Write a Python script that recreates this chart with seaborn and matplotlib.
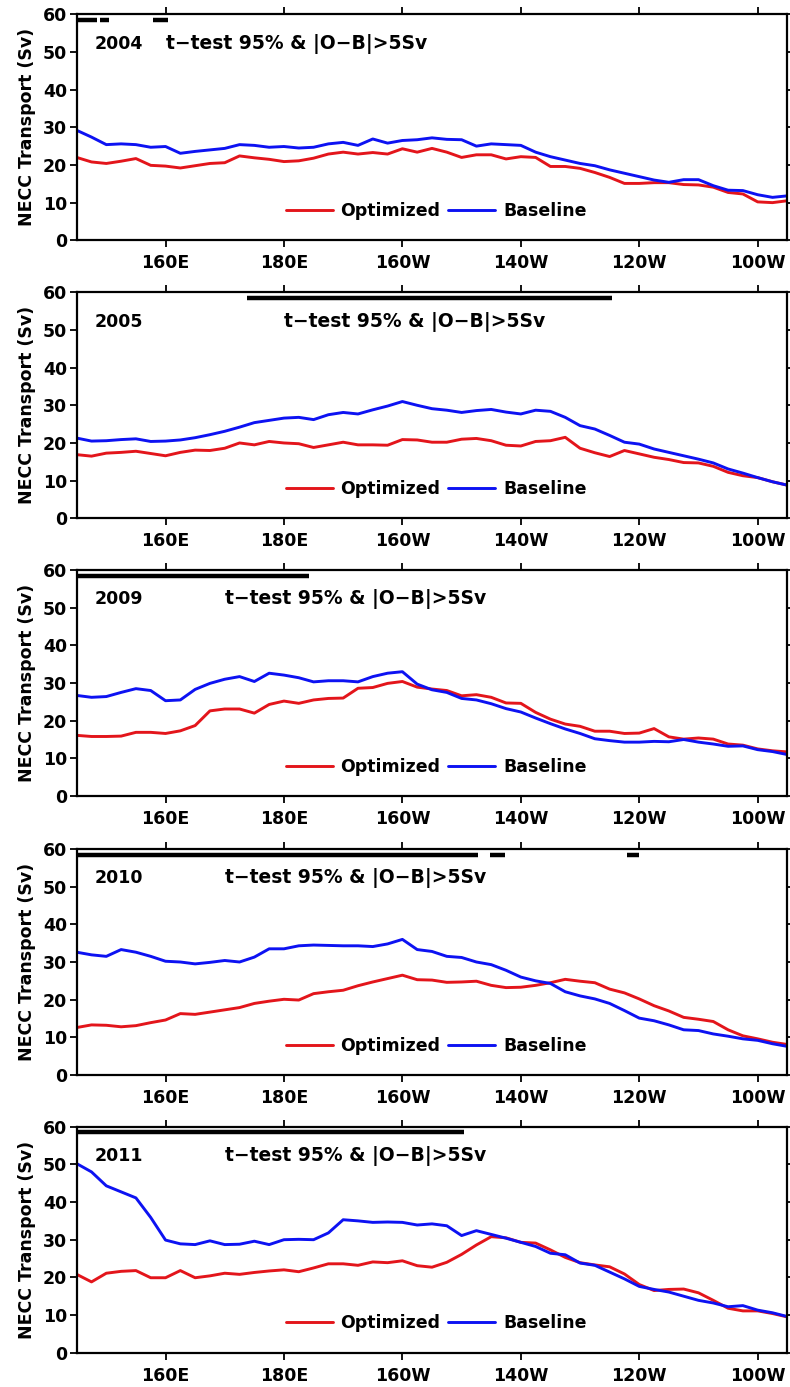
import numpy as np
import pandas as pd
import matplotlib
matplotlib.use("Agg")
import matplotlib.pyplot as plt
import seaborn as sns

# longitude grid (degrees east), 145E .. 95W
lon = np.arange(145, 265.01, 2.5)

years = ["2004", "2005", "2009", "2010", "2011"]

# NECC transport (Sv)
opt_2004 = [22.0, 20.8, 20.4, 21.0, 21.7, 19.9, 19.7, 19.2, 19.8, 20.4, 20.6, 22.4, 21.9, 21.5, 20.9, 21.1,
            21.8, 22.9, 23.4, 22.9, 23.3, 22.9, 24.3, 23.4, 24.4, 23.4, 22.0, 22.7, 22.7, 21.6, 22.2, 22.0,
            19.6, 19.6, 19.1, 18.0, 16.7, 15.1, 15.1, 15.3, 15.3, 14.8, 14.7, 14.1, 12.7, 12.3, 10.2, 10.0, 10.5]
base_2004 = [29.2, 27.4, 25.4, 25.6, 25.4, 24.7, 24.9, 23.1, 23.6, 24.0, 24.4, 25.4, 25.2, 24.7, 24.9, 24.5,
             24.7, 25.6, 26.0, 25.2, 26.9, 25.8, 26.5, 26.7, 27.2, 26.8, 26.7, 25.0, 25.6, 25.4, 25.2, 23.4,
             22.2, 21.3, 20.4, 19.8, 18.7, 17.8, 16.9, 16.0, 15.4, 16.1, 16.1, 14.5, 13.3, 13.2, 12.1, 11.4, 11.8]

opt_2005 = [16.9, 16.5, 17.3, 17.5, 17.8, 17.2, 16.6, 17.5, 18.1, 18.0, 18.6, 20.0, 19.5, 20.4, 20.0, 19.8,
            18.8, 19.5, 20.2, 19.5, 19.5, 19.4, 20.9, 20.8, 20.2, 20.2, 21.0, 21.2, 20.6, 19.4, 19.2, 20.4,
            20.6, 21.5, 18.6, 17.4, 16.4, 18.0, 17.1, 16.2, 15.6, 14.8, 14.7, 13.8, 12.2, 11.3, 10.8, 9.7, 8.8]
base_2005 = [21.3, 20.5, 20.6, 20.9, 21.1, 20.4, 20.5, 20.8, 21.4, 22.2, 23.1, 24.2, 25.4, 26.0, 26.6, 26.8,
             26.2, 27.5, 28.1, 27.7, 28.8, 29.8, 31.0, 30.0, 29.1, 28.7, 28.1, 28.6, 28.9, 28.2, 27.7, 28.7,
             28.4, 26.8, 24.6, 23.7, 22.0, 20.2, 19.7, 18.4, 17.5, 16.6, 15.7, 14.7, 13.1, 12.0, 10.8, 9.7, 8.8]

opt_2009 = [16.1, 15.8, 15.8, 15.9, 16.9, 16.9, 16.6, 17.3, 18.7, 22.6, 23.1, 23.1, 22.0, 24.3, 25.2, 24.6,
            25.5, 25.9, 26.0, 28.6, 28.8, 29.9, 30.4, 28.9, 28.4, 28.0, 26.6, 26.9, 26.2, 24.7, 24.6, 22.2,
            20.4, 19.1, 18.5, 17.2, 17.2, 16.6, 16.7, 17.9, 15.7, 15.1, 15.4, 15.1, 13.8, 13.5, 12.5, 12.0, 11.7]
base_2009 = [26.7, 26.2, 26.4, 27.5, 28.5, 28.0, 25.3, 25.5, 28.3, 29.9, 31.0, 31.7, 30.4, 32.6, 32.1, 31.4,
             30.3, 30.6, 30.6, 30.3, 31.7, 32.6, 33.0, 29.7, 28.2, 27.5, 25.9, 25.5, 24.5, 23.2, 22.3, 20.7,
             19.2, 17.8, 16.6, 15.2, 14.7, 14.3, 14.3, 14.5, 14.4, 15.0, 14.3, 13.8, 13.2, 13.3, 12.3, 11.8, 11.0]

opt_2010 = [12.6, 13.3, 13.2, 12.8, 13.1, 13.9, 14.6, 16.3, 16.1, 16.7, 17.3, 17.9, 19.0, 19.6, 20.1, 19.9,
            21.6, 22.1, 22.5, 23.7, 24.7, 25.6, 26.5, 25.3, 25.2, 24.6, 24.7, 24.9, 23.8, 23.2, 23.3, 23.8,
            24.5, 25.4, 24.9, 24.5, 22.8, 21.8, 20.2, 18.4, 17.0, 15.3, 14.8, 14.2, 12.0, 10.4, 9.6, 8.7, 8.1]
base_2010 = [32.6, 31.9, 31.5, 33.3, 32.6, 31.5, 30.2, 30.0, 29.5, 29.9, 30.4, 30.0, 31.3, 33.5, 33.5, 34.3,
             34.5, 34.4, 34.3, 34.3, 34.1, 34.8, 36.0, 33.3, 32.8, 31.5, 31.2, 30.0, 29.3, 27.8, 26.0, 25.0,
             24.3, 22.1, 21.0, 20.2, 19.0, 17.1, 15.1, 14.4, 13.3, 12.0, 11.8, 10.9, 10.3, 9.6, 9.2, 8.3, 7.6]

opt_2011 = [20.8, 18.8, 21.1, 21.6, 21.8, 19.9, 19.9, 21.8, 19.9, 20.4, 21.1, 20.8, 21.3, 21.7, 22.0, 21.5,
            22.5, 23.6, 23.6, 23.2, 24.1, 23.9, 24.4, 23.1, 22.7, 24.0, 26.1, 28.6, 30.8, 30.5, 29.3, 29.1,
            27.3, 25.3, 23.9, 23.3, 22.8, 20.9, 18.1, 16.5, 16.8, 16.9, 15.9, 13.9, 11.8, 11.1, 11.1, 10.4, 9.5]
base_2011 = [50.2, 48.0, 44.3, 42.7, 41.1, 35.9, 29.9, 28.9, 28.7, 29.7, 28.7, 28.8, 29.6, 28.7, 30.0, 30.1,
             30.0, 31.8, 35.3, 35.0, 34.6, 34.7, 34.6, 33.9, 34.2, 33.7, 31.1, 32.4, 31.4, 30.4, 29.3, 28.2,
             26.4, 26.0, 23.8, 23.2, 21.4, 19.6, 17.6, 16.8, 16.1, 15.0, 13.9, 13.2, 12.2, 12.5, 11.3, 10.6, 9.6]

optimized = [opt_2004, opt_2005, opt_2009, opt_2010, opt_2011]
baseline = [base_2004, base_2005, base_2009, base_2010, base_2011]

# longitude ranges where t-test 95% & |O-B|>5Sv holds
sig_2004 = [(145.2, 148.5), (149.0, 150.4), (157.9, 160.4)]
sig_2005 = [(173.7, 235.4)]
sig_2009 = [(145.3, 184.3)]
sig_2010 = [(145.3, 212.7), (214.8, 217.4), (237.9, 240.0)]
sig_2011 = [(145.3, 210.4)]
significant = [sig_2004, sig_2005, sig_2009, sig_2010, sig_2011]
sig_level = 58.5

# where the annotation text starts (longitude)
note_lon = [160.0, 180.0, 170.0, 170.0, 170.0]

xticks = [160, 180, 200, 220, 240, 260]
xtick_labels = ["160E", "180E", "160W", "140W", "120W", "100W"]

runs = ["Optimized", "Baseline"]
palette = {"Optimized": "#e3151b", "Baseline": "#0d12f2"}

# long-form table for seaborn
frames = []
for yr, o, b in zip(years, optimized, baseline):
    frames.append(pd.DataFrame({"lon": lon, "transport": o, "run": "Optimized", "year": yr}))
    frames.append(pd.DataFrame({"lon": lon, "transport": b, "run": "Baseline", "year": yr}))
df = pd.concat(frames, ignore_index=True)

sns.set_style("ticks")
plt.rcParams["font.family"] = ["DejaVu Sans"]
plt.rcParams["font.weight"] = "bold"
for key in ["text.color", "axes.labelcolor", "xtick.color", "ytick.color", "axes.edgecolor"]:
    plt.rcParams[key] = "black"
fs = 12.5

fig = plt.figure(figsize=(7.9, 13.87), dpi=100)
W, H = 790.0, 1387.0
left_px, right_px = 76.7, 787.3
tops_px = [14.3, 292.3, 570.0, 849.0, 1126.7]
height_px = 226.0

for i, yr in enumerate(years):
    top = tops_px[i]
    ax = fig.add_axes([left_px / W, 1 - (top + height_px) / H,
                       (right_px - left_px) / W, height_px / H])
    sub = df[df["year"] == yr]
    sns.lineplot(data=sub, x="lon", y="transport", hue="run", hue_order=runs,
                 palette=palette, estimator=None, sort=False, linewidth=2.1,
                 legend=False, ax=ax)

    # significance bars
    starts = [s for s, e in significant[i]]
    ends = [e for s, e in significant[i]]
    ax.hlines([sig_level] * len(starts), starts, ends, colors="black", linewidth=3.2)

    ax.text(148.0, 52.2, yr, fontsize=fs, fontweight="bold", va="center", ha="left",
            color="black")
    ax.text(note_lon[i], 52.2, "t\u2212test 95% & |O\u2212B|>5Sv", fontsize=13.5,
            fontweight="bold", va="center", ha="left", color="black")

    ax.set_xlim(145, 265)
    ax.set_ylim(0, 60)
    ax.set_yticks(range(0, 61, 10))
    ax.set_xticks(xticks)
    ax.set_xticklabels(xtick_labels)
    ax.set_xlabel("")
    ax.set_ylabel("NECC Transport (Sv)", fontsize=fs, fontweight="bold", labelpad=5,
                  color="black")

    ax.tick_params(direction="out", length=5, width=1.3, top=True, right=True,
                   labelsize=fs, pad=2, colors="black")
    ax.tick_params(axis="x", pad=5)
    for lab in ax.get_xticklabels() + ax.get_yticklabels():
        lab.set_fontweight("bold")
    for sp in ax.spines.values():
        sp.set_visible(True)
        sp.set_linewidth(1.6)
        sp.set_color("black")

    handles = ax.get_lines()[:2]
    leg = ax.legend(handles, runs, loc="center", bbox_to_anchor=(0.506, 0.13), ncol=2,
                    frameon=False, handlelength=2.7, handletextpad=0.45, columnspacing=0.45,
                    borderpad=0, prop={"size": fs, "weight": "bold"})
    for t in leg.get_texts():
        t.set_color("black")

fig.savefig("out.png", dpi=100)
